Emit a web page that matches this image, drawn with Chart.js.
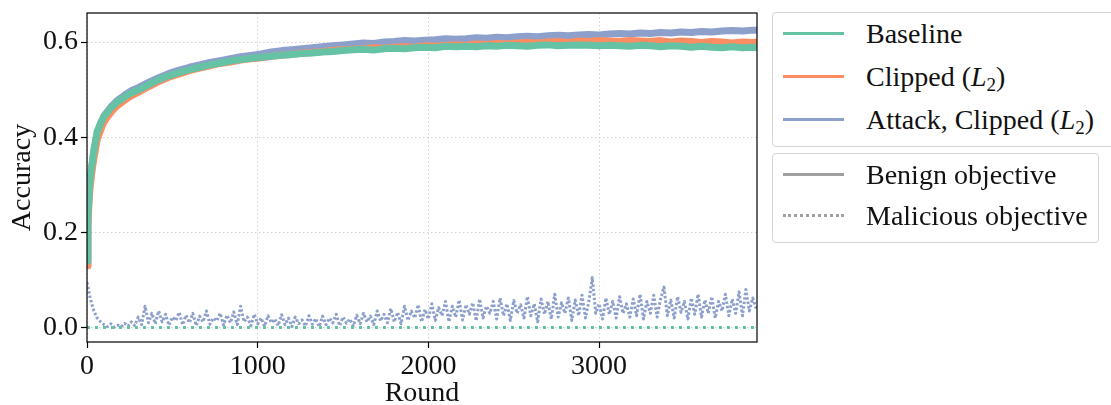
<!DOCTYPE html>
<html>
<head>
<meta charset="utf-8">
<script src="https://cdn.jsdelivr.net/npm/chart.js@4.4.0/dist/chart.umd.min.js"></script>
<style>
  body { margin: 0; background: #fff; }
  #wrap { position: relative; width: 1111px; height: 405px; overflow: hidden; font-family: "Liberation Serif", serif; color: #111; }
  #chart { position: absolute; left: 0; top: 0; }
  .lg { position: absolute; border: 1px solid #d4d4d4; border-radius: 4px; background: #fff; }
  .row { position: absolute; left: 0; height: 40px; display: flex; align-items: center; font-size: 28px; white-space: nowrap; }
  .swatch { position: absolute; left: 10px; width: 61px; top: 18px; height: 0; border-top: 3px solid; }
  .row span { position: absolute; left: 93px; }
  sub { font-size: 19px; vertical-align: -5px; line-height: 0; }
</style>
</head>
<body>
<div id="wrap">
  <canvas id="chart" width="1111" height="405"></canvas>
  <div class="lg" style="left:772px; top:12px; width:345px; height:133px;">
    <div class="row" style="top:1px;"><div class="swatch" style="border-color:#66c2a5"></div><span>Baseline</span></div>
    <div class="row" style="top:44px;"><div class="swatch" style="border-color:#fc8d62"></div><span>Clipped (<i>L</i><sub>2</sub>)</span></div>
    <div class="row" style="top:87px;"><div class="swatch" style="border-color:#8da0cb"></div><span>Attack, Clipped (<i>L</i><sub>2</sub>)</span></div>
  </div>
  <div class="lg" style="left:772px; top:153px; width:325px; height:88px;">
    <div class="row" style="top:1px;"><div class="swatch" style="border-color:#a0a0a0"></div><span>Benign objective</span></div>
    <div class="row" style="top:42px;"><div class="swatch" style="border-top:3px dotted #a0a0a0"></div><span>Malicious objective</span></div>
  </div>
</div>
<script>
// rounds for the benign curves
const benignRounds = [0,5,10,15,20,30,40,50,60,70,80,90,100,120,140,160,180,200,230,260,300,
  360,420,480,540,600,660,720,780,840,900,960,1020,1080,1140,1200,1260,1320,1380,1440,1500,
  1560,1620,1680,1740,1800,1860,1920,1980,2040,2100,2160,2220,2280,2340,2400,2460,2520,2580,
  2640,2700,2760,2820,2880,2940,3000,3060,3120,3180,3240,3300,3360,3420,3480,3540,3600,3660,
  3720,3780,3840,3900,3925];

const baselineBenign = [0.14,0.23,0.27,0.30,0.318,0.345,0.372,0.392,0.412,0.42,0.43,0.436,0.444,0.452,0.462,0.468,0.475,0.479,0.487,0.493,0.499,
  0.510,0.521,0.529,0.536,0.542,0.547,0.552,0.556,0.560,0.563,0.566,0.568,0.570,0.572,0.574,0.576,0.577,0.579,0.580,0.582,
  0.584,0.585,0.583,0.586,0.587,0.586,0.588,0.589,0.588,0.591,0.590,0.591,0.590,0.592,0.591,0.593,0.592,0.591,
  0.593,0.594,0.592,0.593,0.594,0.593,0.592,0.593,0.592,0.591,0.593,0.592,0.590,0.592,0.591,0.589,0.591,0.589,
  0.588,0.590,0.588,0.589,0.588];

const clippedBenign = [0.13,0.21,0.25,0.28,0.30,0.33,0.355,0.375,0.395,0.405,0.415,0.425,0.432,0.443,0.452,0.46,0.467,0.472,0.48,0.487,0.494,
  0.506,0.517,0.526,0.533,0.540,0.545,0.550,0.555,0.558,0.562,0.565,0.567,0.570,0.572,0.574,0.577,0.578,0.580,0.582,0.584,
  0.585,0.586,0.588,0.587,0.589,0.590,0.589,0.592,0.591,0.593,0.594,0.593,0.596,0.595,0.597,0.596,0.598,0.599,
  0.598,0.600,0.601,0.599,0.602,0.601,0.603,0.602,0.601,0.603,0.602,0.601,0.603,0.600,0.602,0.601,0.599,0.601,
  0.600,0.598,0.600,0.599,0.600];

const attackBenign = [0.13,0.22,0.265,0.295,0.315,0.342,0.37,0.39,0.41,0.42,0.43,0.437,0.445,0.454,0.464,0.471,0.478,0.483,0.491,0.498,0.504,
  0.515,0.525,0.534,0.541,0.547,0.552,0.557,0.561,0.565,0.569,0.572,0.575,0.579,0.582,0.584,0.586,0.588,0.590,0.592,0.594,
  0.596,0.598,0.597,0.600,0.601,0.603,0.602,0.604,0.605,0.607,0.606,0.607,0.609,0.608,0.610,0.609,0.611,0.612,
  0.611,0.613,0.614,0.613,0.615,0.616,0.615,0.617,0.618,0.617,0.619,0.618,0.620,0.619,0.621,0.620,0.622,0.621,
  0.623,0.624,0.623,0.625,0.625];

// rounds for the malicious objective of the attack run
const maliciousRounds = [
  0,20,40,60,80,100,120,140,160,180, 200,220,240,260,280,300,320,340,360,380,
  400,420,440,460,480,500,520,540,560,580, 600,620,640,660,680,700,720,740,760,780,
  800,820,840,860,880,900,920,940,960,980, 1000,1020,1040,1060,1080,1100,1120,1140,1160,1180,
  1200,1220,1240,1260,1280,1300,1320,1340,1360,1380, 1400,1420,1440,1460,1480,1500,1520,1540,1560,1580,
  1600,1620,1640,1660,1680,1700,1720,1740,1760,1780, 1800,1820,1840,1860,1880,1900,1920,1940,1960,1980,
  2000,2020,2040,2060,2080,2100,2120,2140,2160,2180, 2200,2220,2240,2260,2280,2300,2320,2340,2360,2380,
  2400,2420,2440,2460,2480,2500,2520,2540,2560,2580, 2600,2620,2640,2660,2680,2700,2720,2740,2760,2780,
  2800,2820,2840,2860,2880,2900,2920,2940,2960,2980, 3000,3020,3040,3060,3080,3100,3120,3140,3160,3180,
  3200,3220,3240,3260,3280,3300,3320,3340,3360,3380, 3400,3420,3440,3460,3480,3500,3520,3540,3560,3580,
  3600,3620,3640,3660,3680,3700,3720,3740,3760,3780, 3800,3820,3840,3860,3880,3900,3920];

const attackMalicious = [
  0.095,0.06,0.035,0.02,0.012,0.006,0.002,0.008,0.001,0.005, 0.002,0.009,0.003,0.012,0.004,0.022,0.006,0.045,0.01,0.03,
  0.008,0.035,0.012,0.028,0.005,0.022,0.015,0.032,0.006,0.026, 0.01,0.03,0.004,0.024,0.012,0.035,0.007,0.02,0.014,0.03,
  0.005,0.026,0.01,0.033,0.006,0.045,0.012,0.022,0.004,0.028, 0.008,0.02,0.003,0.025,0.01,0.018,0.004,0.027,0.006,0.02,
  0.002,0.022,0.008,0.016,0.003,0.025,0.007,0.019,0.002,0.024, 0.006,0.02,0.01,0.028,0.004,0.022,0.009,0.018,0.003,0.026,
  0.008,0.03,0.012,0.024,0.006,0.035,0.014,0.028,0.01,0.04, 0.012,0.032,0.008,0.045,0.015,0.035,0.02,0.048,0.012,0.038,
  0.018,0.05,0.015,0.042,0.025,0.055,0.012,0.045,0.022,0.058, 0.016,0.048,0.028,0.052,0.014,0.06,0.02,0.045,0.03,0.055,
  0.018,0.062,0.025,0.05,0.015,0.057,0.03,0.048,0.02,0.065, 0.025,0.05,0.012,0.06,0.028,0.055,0.018,0.07,0.022,0.052,
  0.03,0.062,0.015,0.058,0.025,0.068,0.02,0.055,0.105,0.03, 0.05,0.018,0.062,0.028,0.055,0.02,0.065,0.03,0.05,0.022,
  0.06,0.025,0.07,0.018,0.055,0.03,0.068,0.022,0.06,0.085, 0.025,0.058,0.02,0.065,0.032,0.055,0.018,0.062,0.028,0.07,
  0.022,0.058,0.03,0.065,0.02,0.055,0.035,0.07,0.025,0.06, 0.03,0.075,0.025,0.08,0.035,0.062,0.04];

// the non-attack runs sit at zero on the malicious objective
const flatRounds = [0, 3925];
const baselineMalicious = [0, 0];
const clippedMalicious = [0, 0];

const xTicks = [0, 1000, 2000, 3000];
const yTicks = [0.0, 0.2, 0.4, 0.6];

const GREEN = '#66c2a5', ORANGE = '#fc8d62', BLUE = '#8da0cb';
const FONT = { family: 'Liberation Serif', size: 28 };

function pts(xs, ys) {
    return xs.map((x, i) => ({ x: x, y: ys[i] }));
}

function line(data, color, width, dash) {
    return {
        data: data, borderColor: color, borderWidth: width, borderDash: dash || [],
        pointRadius: 0, tension: 0, fill: false, borderCapStyle: 'butt', borderJoinStyle: 'round'
    };
}

// axes frame on all four sides
const frame = {
    id: 'frame',
    afterDraw(chart) {
        const a = chart.chartArea, c = chart.ctx;
        c.save();
        c.strokeStyle = '#000';
        c.lineWidth = 1.2;
        c.strokeRect(a.left, a.top, a.right - a.left, a.bottom - a.top);
        c.restore();
    }
};

const gridOpts = { color: '#cccccc', lineWidth: 0.9, tickLength: 6, tickColor: '#000', tickWidth: 1.2, tickBorderDash: [] };

new Chart(document.getElementById('chart'), {
    type: 'line',
    data: {
        datasets: [
            line(pts(flatRounds, baselineMalicious), GREEN, 3, [3, 5]),
            line(pts(benignRounds, baselineBenign), GREEN, 7),
            line(pts(flatRounds, clippedMalicious), ORANGE, 3, [3, 5]),
            line(pts(benignRounds, clippedBenign), ORANGE, 7),
            line(pts(benignRounds, attackBenign), BLUE, 7),
            line(pts(maliciousRounds, attackMalicious), BLUE, 3, [2.5, 2])
        ]
    },
    options: {
        responsive: false,
        animation: false,
        layout: { padding: { top: 13, right: 354, left: 0, bottom: 0 } },
        plugins: { legend: { display: false }, tooltip: { enabled: false } },
        scales: {
            x: {
                type: 'linear', min: 0, max: 3925,
                afterFit: s => { s.height = 63; s.paddingLeft = 0; s.paddingRight = 0; },
                afterBuildTicks: s => { s.ticks = xTicks.map(v => ({ value: v })); },
                ticks: { font: FONT, color: '#111', padding: 2, maxRotation: 0, callback: v => String(v) },
                grid: gridOpts,
                border: { display: false, dash: [1.5, 2.5] },
                title: { display: true, text: 'Round', font: FONT, color: '#111', padding: { top: 0, bottom: -5 } }
            },
            y: {
                min: -0.0303, max: 0.661,
                afterFit: s => { s.width = 87; s.paddingTop = 0; s.paddingBottom = 0; },
                afterBuildTicks: s => { s.ticks = yTicks.map(v => ({ value: v })); },
                ticks: { font: FONT, color: '#111', padding: 3, callback: v => v.toFixed(1) },
                grid: gridOpts,
                border: { display: false, dash: [1.5, 2.5] },
                title: { display: true, text: 'Accuracy', font: FONT, color: '#111', padding: { top: 6, bottom: 0 } }
            }
        }
    },
    plugins: [frame]
});
</script>
</body>
</html>
